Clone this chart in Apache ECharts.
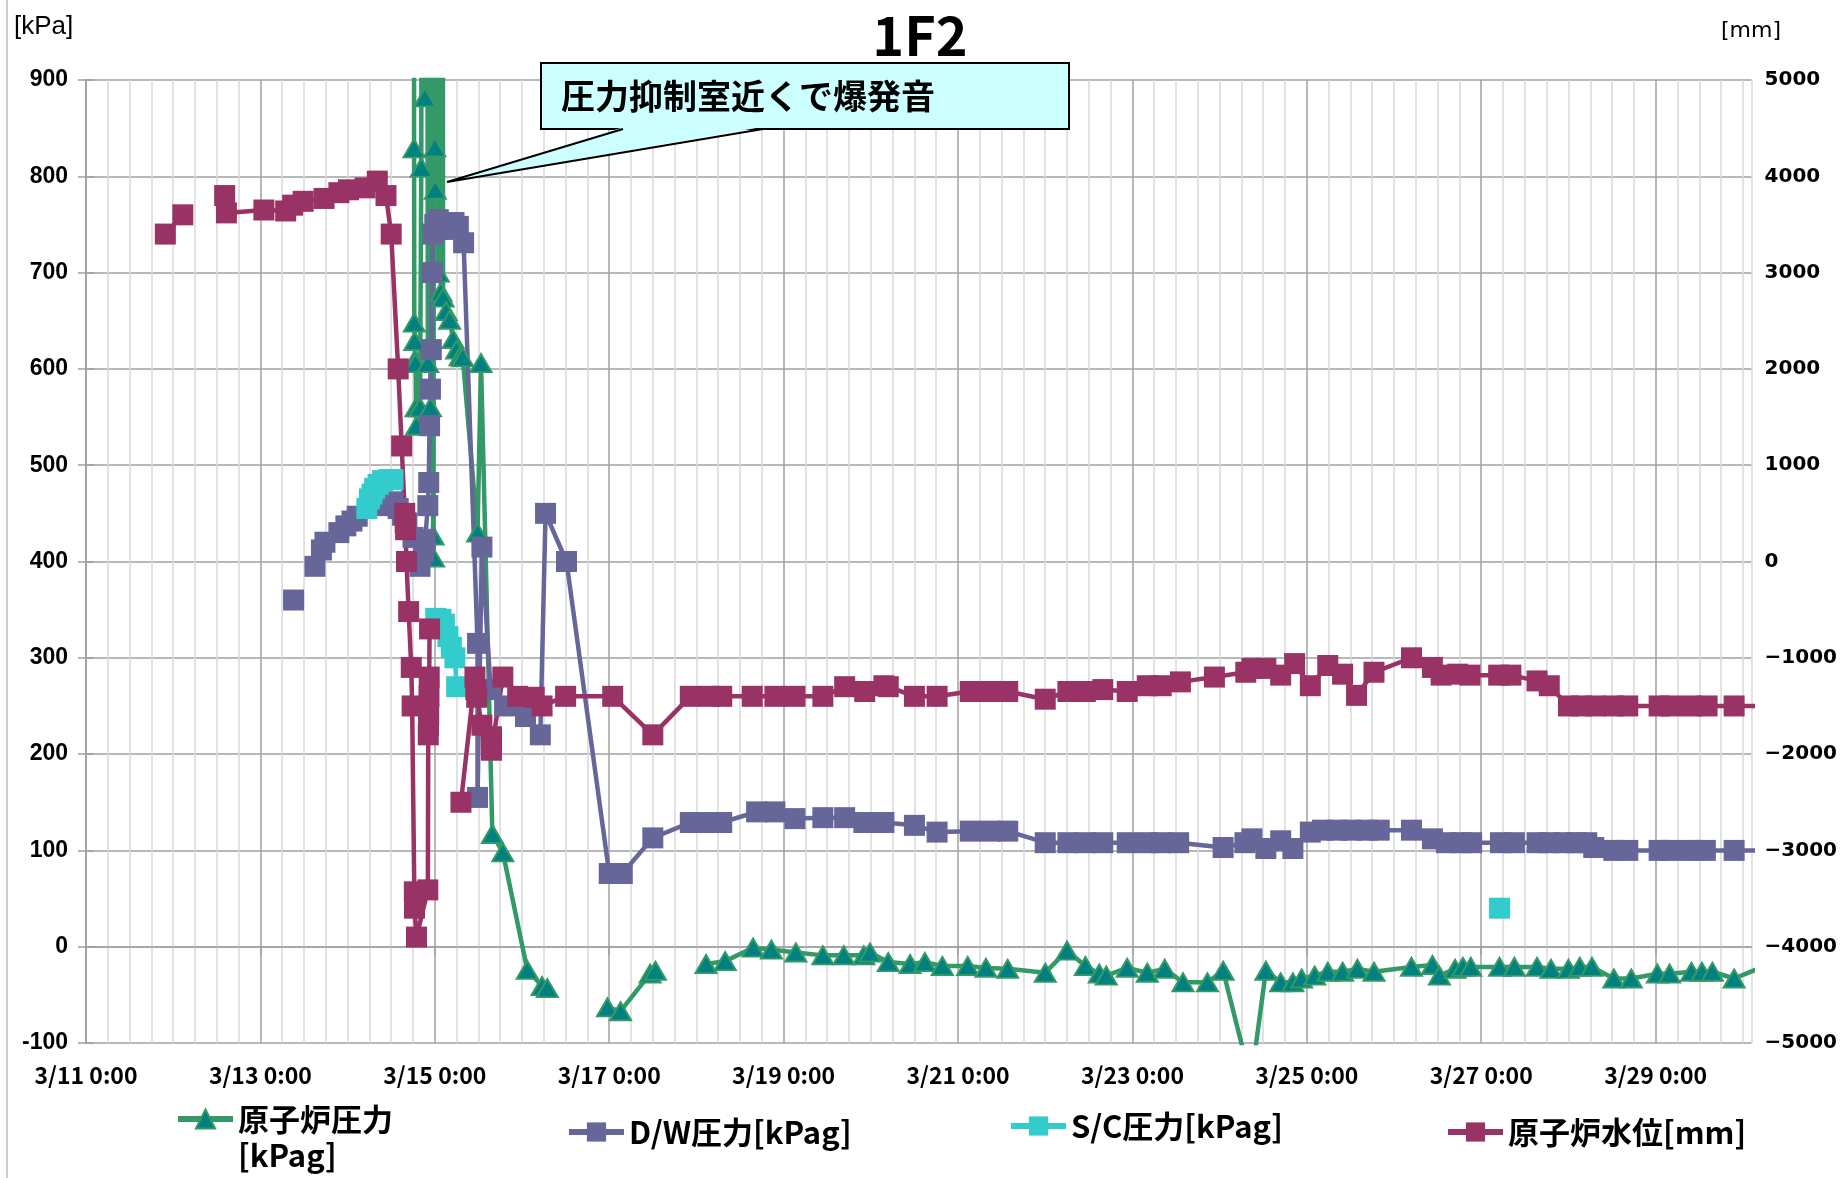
<!DOCTYPE html>
<html>
<head>
<meta charset="utf-8">
<title>1F2</title>
<script src="https://cdn.jsdelivr.net/npm/echarts@6/dist/echarts.min.js"></script>
<style>
  html, body { margin: 0; padding: 0; background: #fff; }
  #chart { width: 1840px; height: 1178px; }
</style>
</head>
<body>
<div id="chart"></div>
<script>
// x = days after 3/11 0:00, '-' breaks the line
const dateTicks = ['3/11 0:00', '3/13 0:00', '3/15 0:00', '3/17 0:00', '3/19 0:00',
  '3/21 0:00', '3/23 0:00', '3/25 0:00', '3/27 0:00', '3/29 0:00']
const X_MAX = 19.1

const seriesNames = ['原子炉圧力\n[kPag]', 'D/W圧力[kPag]', 'S/C圧力[kPag]', '原子炉水位[mm]']
const leftUnit = '[kPa]'
const rightUnit = '[mm]'

// 原子炉圧力 [kPag] (values above 900 run off the top of the plot)
const reactorPressure = [
  [3.76, 7000], [3.762, 829], [3.765, 648], [3.77, 629], [3.775, 610], [3.78, 606],
  [3.785, 560], [3.79, 541], [3.83, 560], [3.845, 809], [3.86, 2500],
  [3.886, 882], [3.90, 2500], [3.92, 606], [3.93, 2500], [3.95, 560], [3.965, 2500],
  [3.98, 427], [3.985, 404], [3.995, 2500], [4.0, 830], [4.005, 786], [4.02, 2500],
  [4.04, 700], [4.055, 2500], [4.07, 680], [4.08, 2500], [4.095, 674], [4.13, 660],
  [4.17, 651], [4.21, 631], [4.25, 620], [4.29, 613], [4.32, 612], [4.49, 430],
  [4.53, 606], [4.66, 117], [4.78, 98], [5.06, -24], [5.23, -41], [5.29, -43],
  [5.6, '-'],
  [5.98, -63], [6.13, -67], [6.47, -28], [6.53, -25],
  [6.8, '-'],
  [7.11, -18], [7.33, -15], [7.65, -1], [7.86, -3], [8.14, -6], [8.45, -9], [8.69, -9],
  [8.92, -9], [8.99, -6], [9.2, -16], [9.45, -18], [9.62, -16], [9.82, -20], [10.11, -20],
  [10.32, -22], [10.57, -23], [11.0, -27], [11.25, -4], [11.46, -20], [11.62, -28],
  [11.7, -30], [11.94, -22], [12.17, -27], [12.37, -23], [12.58, -37], [12.86, -37],
  [13.04, -25], [13.36, -140], [13.53, -25], [13.70, -37], [13.84, -37], [13.94, -33],
  [14.09, -30], [14.24, -26], [14.41, -26], [14.58, -23], [14.77, -26], [15.2, -21],
  [15.44, -19], [15.52, -30], [15.70, -23], [15.79, -21], [15.88, -21], [16.21, -21],
  [16.38, -21], [16.64, -21], [16.80, -23], [17.0, -23], [17.13, -21], [17.27, -21],
  [17.52, -33], [17.72, -33], [18.02, -28], [18.16, -28], [18.41, -26], [18.53, -26],
  [18.65, -26], [18.9, -33], [19.2, -22],
]

// D/W圧力 [kPag]
const dwPressure = [
  [2.38, 360], [2.5, '-'],
  [2.625, 395], [2.70, 412], [2.74, 420], [2.90, 430], [2.98, 437], [3.05, 442],
  [3.11, 447], [3.45, 458], [3.52, 462], [3.58, 455], [3.63, 448], [3.68, 440],
  [3.75, 425], [3.83, 395], [3.87, 410], [3.89, 423], [3.92, 458], [3.93, 482],
  [3.94, 541], [3.95, 579], [3.96, 620], [3.97, 700], [3.98, 740], [4.0, 750],
  [4.04, 755], [4.08, 745], [4.12, 752], [4.17, 745], [4.22, 752], [4.27, 748],
  [4.33, 731], [4.49, 315], [4.49, 155], [4.54, 415], [4.64, 267], [4.80, 250],
  [5.04, 239], [5.21, 220], [5.27, 450], [5.51, 400], [6.0, 76], [6.15, 76], [6.5, 113],
  [6.93, 129], [7.16, 129], [7.29, 129], [7.69, 140], [7.90, 140], [8.13, 133],
  [8.45, 134], [8.70, 134], [8.92, 129], [9.15, 129], [9.50, 126], [9.76, 119],
  [10.14, 120], [10.37, 120], [10.57, 120], [11.0, 108], [11.26, 108], [11.46, 108],
  [11.66, 108], [11.94, 108], [12.17, 108], [12.33, 108], [12.53, 108], [13.04, 103],
  [13.29, 108], [13.37, 112], [13.53, 102], [13.70, 110], [13.84, 102], [14.04, 119],
  [14.18, 121], [14.35, 121], [14.51, 121], [14.69, 121], [14.83, 121], [15.2, 121],
  [15.44, 112], [15.6, 108], [15.77, 108], [15.89, 108], [16.22, 108], [16.38, 108],
  [16.64, 108], [16.78, 108], [16.95, 108], [17.09, 108], [17.21, 108], [17.29, 103],
  [17.52, 100], [17.68, 100], [18.04, 100], [18.17, 100], [18.41, 100], [18.57, 100],
  [18.9, 100], [19.2, 100],
]

// S/C圧力 [kPag]
const scPressure = [
  [3.22, 455], [3.25, 465], [3.28, 470], [3.31, 476], [3.35, 480], [3.40, 484],
  [3.47, 485], [3.52, 485], [3.7, '-'],
  [4.01, 341], [4.07, 340], [4.11, 335], [4.15, 322], [4.19, 311], [4.23, 300],
  [4.25, 270], [4.5, '-'],
  [16.21, 40],
]

// 原子炉水位 [mm]
const waterLevel = [
  [0.91, 3400], [1.11, 3600], [1.3, '-'],
  [1.59, 3800], [1.61, 3620], [2.04, 3650], [2.29, 3640], [2.37, 3700], [2.49, 3740],
  [2.73, 3770], [2.90, 3830], [3.01, 3860], [3.20, 3880], [3.34, 3950], [3.44, 3800],
  [3.50, 3400], [3.58, 2000], [3.62, 1200], [3.655, 500], [3.66, 400], [3.665, 330],
  [3.675, 0], [3.70, -520], [3.73, -1100], [3.74, -1500], [3.765, -3430], [3.767, -3600],
  [3.79, -3900], [3.92, -3410], [3.925, -1800], [3.928, -1700], [3.93, -1590],
  [3.933, -1400], [3.936, -1200], [3.94, -700], [4.1, '-'],
  [4.30, -2500], [4.46, -1200], [4.47, -1330], [4.48, -1410], [4.54, -1700],
  [4.65, -1820], [4.65, -1960], [4.78, -1200], [4.95, -1400], [5.14, -1410],
  [5.23, -1500], [5.50, -1400], [6.04, -1400], [6.50, -1800], [6.93, -1400],
  [7.16, -1400], [7.29, -1400], [7.64, -1400], [7.90, -1400], [8.13, -1400],
  [8.45, -1400], [8.70, -1300], [8.93, -1350], [9.15, -1290], [9.20, -1300],
  [9.50, -1400], [9.76, -1400], [10.14, -1350], [10.37, -1350], [10.57, -1350],
  [11.0, -1430], [11.26, -1350], [11.46, -1350], [11.66, -1330], [11.94, -1350],
  [12.17, -1290], [12.33, -1290], [12.55, -1250], [12.94, -1200], [13.3, -1150],
  [13.37, -1110], [13.53, -1110], [13.70, -1180], [13.86, -1060], [14.04, -1290],
  [14.24, -1080], [14.41, -1170], [14.57, -1390], [14.77, -1150], [15.2, -1000],
  [15.44, -1100], [15.54, -1180], [15.73, -1170], [15.87, -1180], [16.2, -1180],
  [16.34, -1180], [16.64, -1240], [16.78, -1290], [17.0, -1500], [17.15, -1500],
  [17.31, -1500], [17.52, -1500], [17.68, -1500], [18.04, -1500], [18.17, -1500],
  [18.41, -1500], [18.59, -1500], [18.9, -1500], [19.2, -1500],
]

const calloutText = '圧力抑制室近くで爆発音'
const calloutTip = [4.14, 794]

const gridMajor = '#a0a0a0'
const gridMinor = '#d9d9d9'
const jp = '"Noto Sans CJK JP", sans-serif'

const chart = echarts.init(document.getElementById('chart'))

const makeLegend = (name, left, top, formatter) => ({
  data: [name],
  left: left,
  top: top,
  itemWidth: 55,
  itemHeight: 24,
  selectedMode: false,
  formatter: formatter || '{name}',
  lineStyle: { width: 6 },
  textStyle: {
    color: '#000',
    fontSize: 31,
    fontWeight: 'bold',
    fontFamily: jp,
    lineHeight: 36,
  },
})

const option = {
  backgroundColor: '#fff',
  animation: false,
  title: {
    text: '1F2',
    left: 'center',
    top: 3,
    textStyle: {
      fontSize: 54,
      fontWeight: 'bold',
      fontFamily: jp,
      color: '#000',
    },
  },
  legend: [
    // blank first line keeps the icon level with the first text line
    makeLegend(seriesNames[0], 170, 1060, (name) => ' \n' + name),
    makeLegend(seriesNames[1], 561, 1109),
    makeLegend(seriesNames[2], 1003, 1103),
    makeLegend(seriesNames[3], 1440, 1109),
  ],
  grid: {
    left: 86,
    right: 83,
    top: 80,
    bottom: 135,
  },
  xAxis: [
    {
      type: 'value',
      min: 0,
      max: X_MAX,
      interval: 2,
      z: 1,
      axisLine: { lineStyle: { color: gridMajor, width: 1.5 } },
      axisTick: { show: true, length: 8, lineStyle: { color: gridMajor, width: 1.5 } },
      splitLine: { show: false },
      axisLabel: {
        margin: 21,
        color: '#000',
        fontSize: 23,
        fontWeight: 'bold',
        fontFamily: jp,
        showMaxLabel: false,
        formatter(v) {
          return v % 2 === 0 ? dateTicks[v / 2] : ''
        },
      },
    },
    {
      type: 'value',
      min: 0,
      max: X_MAX,
      interval: 0.25,
      z: 0,
      axisLine: { show: false },
      axisTick: { show: false },
      axisLabel: { show: false },
      splitLine: {
        show: true,
        lineStyle: {
          width: 1.5,
          color: [gridMajor, gridMinor, gridMinor, gridMinor, gridMinor, gridMinor, gridMinor, gridMinor],
        },
      },
    },
  ],
  yAxis: [
    {
      type: 'value',
      min: -100,
      max: 900,
      interval: 100,
      axisLine: { show: true, lineStyle: { color: gridMajor, width: 1.5 } },
      axisTick: { show: true, length: 8, lineStyle: { color: gridMajor, width: 1.5 } },
      splitLine: { show: true, lineStyle: { color: gridMajor, width: 1.5 } },
      axisLabel: {
        margin: 18,
        color: '#000',
        fontSize: 23,
        fontWeight: 'bold',
        fontFamily: 'Liberation Sans, Arial, sans-serif',
      },
    },
    {
      type: 'value',
      min: -5000,
      max: 5000,
      interval: 1000,
      position: 'right',
      axisLine: { show: true, lineStyle: { color: gridMajor, width: 1.5 } },
      axisTick: { show: true, length: 8, lineStyle: { color: gridMajor, width: 1.5 } },
      splitLine: { show: false },
      axisLabel: {
        margin: 13,
        color: '#000',
        fontSize: 20,
        fontWeight: 'bold',
        fontFamily: 'DejaVu Sans, sans-serif',
        formatter(v) {
          return String(v).replace('-', '\u2212')
        },
      },
    },
  ],
  series: [
    {
      name: seriesNames[0],
      type: 'line',
      data: reactorPressure,
      symbol: 'triangle',
      symbolSize: [21, 18],
      showAllSymbol: true,
      clip: true,
      lineStyle: { color: '#339966', width: 4.5 },
      itemStyle: { color: '#008080', borderColor: '#339966', borderWidth: 2 },
    },
    {
      name: seriesNames[1],
      type: 'line',
      data: dwPressure,
      symbol: 'rect',
      symbolSize: 21,
      showAllSymbol: true,
      clip: true,
      lineStyle: { color: '#666699', width: 4.5 },
      itemStyle: { color: '#666699' },
    },
    {
      name: seriesNames[2],
      type: 'line',
      data: scPressure,
      symbol: 'rect',
      symbolSize: 21,
      showAllSymbol: true,
      clip: true,
      lineStyle: { color: '#33cccc', width: 4.5 },
      itemStyle: { color: '#33cccc' },
    },
    {
      name: seriesNames[3],
      type: 'line',
      yAxisIndex: 1,
      data: waterLevel,
      symbol: 'rect',
      symbolSize: 21,
      showAllSymbol: true,
      clip: true,
      lineStyle: { color: '#993366', width: 4.5 },
      itemStyle: { color: '#993366' },
    },
  ],
}

chart.setOption(option)

// unit captions, outer border and the callout pointing at the pressure spike
const tip = chart.convertToPixel({ xAxisIndex: 0, yAxisIndex: 0 }, calloutTip)
chart.setOption({
  graphic: [
    {
      type: 'line',
      shape: { x1: 7, y1: 0, x2: 7, y2: 1178 },
      style: { stroke: '#999', lineWidth: 1 },
    },
    {
      type: 'text',
      x: 14,
      y: 27,
      style: {
        text: leftUnit,
        fill: '#000',
        fontSize: 26,
        fontFamily: 'Liberation Sans, Arial, sans-serif',
        verticalAlign: 'middle',
      },
    },
    {
      type: 'text',
      x: 1721,
      y: 31,
      style: {
        text: rightUnit,
        fill: '#000',
        fontSize: 22,
        fontFamily: 'DejaVu Sans, sans-serif',
        verticalAlign: 'middle',
      },
    },
    {
      type: 'rect',
      z: 100,
      shape: { x: 541, y: 63, width: 528, height: 66 },
      style: { fill: '#ccffff', stroke: '#000', lineWidth: 2 },
    },
    {
      type: 'polygon',
      z: 101,
      shape: { points: [[624, 127], tip, [762, 127]] },
      style: { fill: '#ccffff' },
    },
    {
      type: 'polyline',
      z: 102,
      shape: { points: [[623, 129], tip, [763, 129]] },
      style: { stroke: '#000', lineWidth: 2, fill: null },
    },
    {
      type: 'text',
      z: 103,
      x: 561,
      y: 96,
      style: {
        text: calloutText,
        fill: '#000',
        fontSize: 34,
        fontWeight: 'bold',
        fontFamily: jp,
        verticalAlign: 'middle',
      },
    },
  ],
})
</script>
</body>
</html>
